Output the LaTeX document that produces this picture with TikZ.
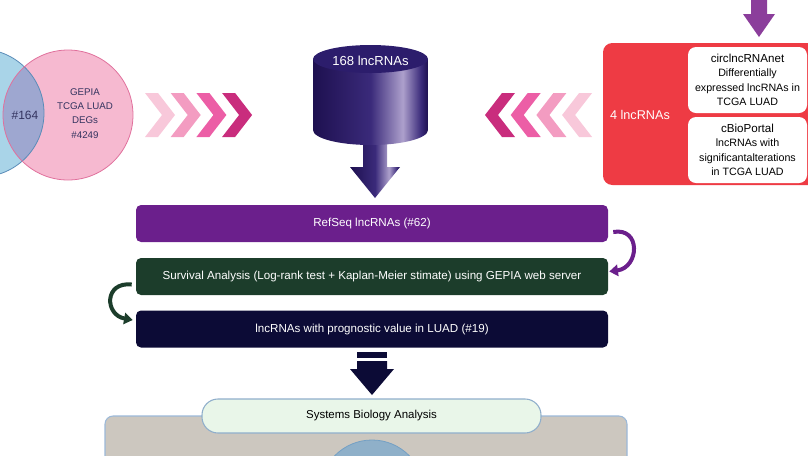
\documentclass[tikz,border=0pt]{standalone}
\usepackage{fontspec}
\setmainfont{Liberation Sans}
\usetikzlibrary{arrows.meta,calc}

\definecolor{refpurple}{HTML}{6B1F8C}
\definecolor{survgreen}{HTML}{1C3D2B}
\definecolor{prognavy}{HTML}{0C0B36}
\definecolor{redbox}{HTML}{EE3B44}
\definecolor{toparrow}{HTML}{8B3E9B}
\definecolor{boxgray}{HTML}{CCC7BF}
\definecolor{boxblue}{HTML}{9BB9D9}
\definecolor{pillgreen}{HTML}{E9F6E9}
\definecolor{pillblue}{HTML}{8FAECB}
\definecolor{ballblue}{HTML}{8FB0C9}
\definecolor{ballline}{HTML}{74A0C4}
\definecolor{vennblue}{HTML}{A9D4E8}
\definecolor{vennblueline}{HTML}{5A8CB8}
\definecolor{vennpink}{HTML}{F6B9D0}
\definecolor{vennpinkline}{HTML}{E0709C}
\definecolor{vennmix}{HTML}{9EA7D0}
\definecolor{venntext}{HTML}{33335F}
\definecolor{chevA}{HTML}{F8C8DA}
\definecolor{chevB}{HTML}{F39CC1}
\definecolor{chevC}{HTML}{EC5EA6}
\definecolor{chevD}{HTML}{C92D7D}
\definecolor{cylDark}{HTML}{1E1050}
\definecolor{cylMid}{HTML}{3A2A7A}
\definecolor{cylLight}{HTML}{ADA0CC}
\definecolor{cylTop}{HTML}{2C1D6C}

\pgfdeclarehorizontalshading{cylshade}{100bp}{color(0bp)=(cylDark); color(25bp)=(cylDark);
  color(50bp)=(cylMid); color(64bp)=(cylLight); color(72bp)=(cylMid); color(75bp)=(cylDark);
  color(100bp)=(cylDark)}

\begin{document}
\begin{tikzpicture}[x=0.75pt, y=-0.75pt, >={Triangle[length=6.5pt,width=8.5pt]},
  bar/.style={rectangle, rounded corners=3.75pt, minimum width=354pt, minimum height=27.75pt,
    inner sep=0pt, text=white, font=\fontsize{8.7}{10}\selectfont},
  sidebox/.style={rectangle, rounded corners=6pt, fill=white, minimum width=89.25pt,
    minimum height=49.5pt, inner sep=0pt, align=center, font=\fontsize{8}{10.9}\selectfont},
  vtext/.style={text=venntext, align=center, font=\fontsize{7.3}{10.7}\selectfont},
  turn/.style={->, line width=3pt}]
\useasboundingbox (0,0) rectangle (808,455);

% venn diagram
\fill [vennblue] (-20,113) circle [radius=48pt];
\fill [vennpink] (68,115) circle [radius=48.75pt];
\begin {scope}
  \clip (-20,113) circle [radius=48pt];
  \fill [vennmix] (68,115) circle [radius=48.75pt];
\end {scope}
\draw [vennblueline, line width=0.6pt] (-20,113) circle [radius=48pt];
\draw [vennpinkline, line width=0.6pt] (68,115) circle [radius=48.75pt];
\node [text=venntext, font=\fontsize{9}{10}\selectfont] (common) at (25,115) {\#164};
\node [vtext] (gepia) at (85,113.5) {GEPIA\\TCGA LUAD\\DEGs\\\#4249};

% chevrons
\foreach \i/\c in {0/chevA,1/chevB,2/chevC,3/chevD}
  \fill [\c] (145+25.7*\i,93) -- ++(13,0) -- ++(17,22) -- ++(-17,22) -- ++(-13,0)
    -- ++(17,-22) -- cycle;
\foreach \i/\c in {0/chevD,1/chevC,2/chevB,3/chevA}
  \fill [\c] (515+25.7*\i,93) -- ++(-13,0) -- ++(-17,22) -- ++(17,22) -- ++(13,0)
    -- ++(-17,-22) -- cycle;

% cylinder and its arrow
\shade [shading=cylshade] (363,128) -- (363,167) -- (350,167) -- (375,198) -- (400,167)
  -- (387,167) -- (387,128) -- cycle;
\shade [shading=cylshade] (313,59) -- (313,130) arc [start angle=180, end angle=360,
  x radius=43.125pt, y radius=11.25pt] -- (428,59) -- cycle;
\fill [cylTop] (370.5,59) ellipse [x radius=43.125pt, y radius=10.5pt];
\node [text=white, font=\fontsize{9.8}{11}\selectfont] (total) at (370.5,61) {168 lncRNAs};

% red box
\fill [toparrow] (751,-2) -- (767,-2) -- (767,14) -- (775,14) -- (759,37) -- (743,14)
  -- (751,14) -- cycle;
\fill [redbox, rounded corners=7pt] (603,43) rectangle (830,185);
\node [text=white, font=\fontsize{9.5}{11}\selectfont] (four) at (640,115) {4 lncRNAs};
\node [sidebox] (circ) at (747.5,80)
  {{\fontsize{8.7}{10.9}\selectfont circlncRNAnet}\\Differentially\\expressed lncRNAs in\\TCGA LUAD};
\node [sidebox] (cbio) at (747.5,150)
  {{\fontsize{8.7}{10.9}\selectfont cBioPortal}\\lncRNAs with\\significantalterations\\in TCGA LUAD};

% bars
\node [bar, fill=refpurple] (refseq) at (372,223.5) {RefSeq lncRNAs (\#62)};
\node [bar, fill=survgreen] (surv) at (372,276.5)
  {Survival Analysis (Log-rank test + Kaplan-Meier stimate) using GEPIA web server};
\node [bar, fill=prognavy] (prog) at (372,329) {lncRNAs with prognostic value in LUAD (\#19)};
\draw [turn, refpurple] ($(refseq.east)+(5,8.5)$) .. controls +(28,-5) and +(30,-4)
  .. ($(surv.east)+(1,-5)$);
\draw [turn, survgreen] ($(surv.west)+(-4,8)$) .. controls +(-28,-3) and +(-28,-5)
  .. ($(prog.west)+(-3,-9)$);

% arrow down
\fill [prognavy] (357,352) rectangle (387,358);
\fill [prognavy] (357,361) -- (387,361) -- (387,369) -- (394,369) -- (372,395) -- (350,369)
  -- (357,369) -- cycle;

% systems biology
\draw [fill=boxgray, draw=boxblue, line width=0.8pt, rounded corners=6pt] (105,416) rectangle (627,480);
\draw [fill=ballblue, draw=ballline, line width=0.6pt] (372,492) circle [radius=39pt];
\node [fill=pillgreen, draw=pillblue, line width=0.8pt, rounded corners=12pt,
  minimum width=254.25pt, minimum height=25.5pt, font=\fontsize{8.6}{10}\selectfont]
  (sba) at (371.5,416) {Systems Biology Analysis};
\end{tikzpicture}
\end{document}
